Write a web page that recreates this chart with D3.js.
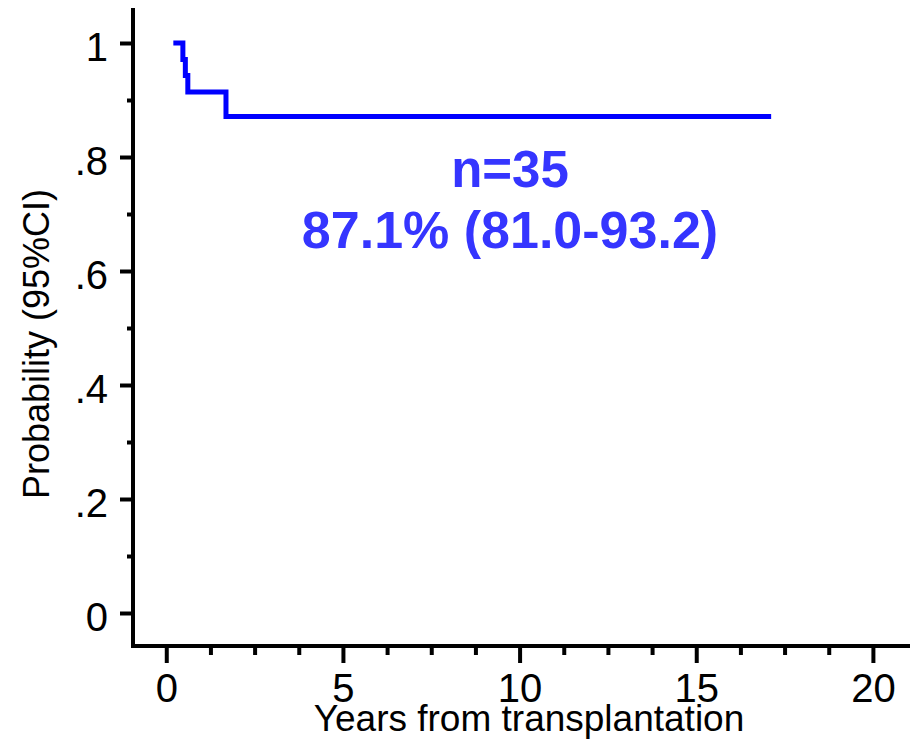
<!DOCTYPE html>
<html>
<head>
<meta charset="utf-8">
<script src="https://cdn.jsdelivr.net/npm/d3@7"></script>
<style>
  html, body { margin: 0; padding: 0; background: #fff; }
  svg { display: block; font-family: "Liberation Sans", Arial, Helvetica, sans-serif; }
</style>
</head>
<body>
<svg id="chart" width="922" height="739"></svg>
<script>
// Kaplan–Meier survival steps: time in years, survival probability
const times    = [0.2, 0.47, 0.54, 0.61, 1.69, 17.12];
const survival = [1.0, 0.971, 0.943, 0.914, 0.871, 0.871];

const xTicks = [0, 5, 10, 15, 20];
const xMinorTicks = d3.range(0, 20.01, 1.25).filter(v => v % 5 !== 0);
const yTicks = [0, 0.2, 0.4, 0.6, 0.8, 1];
const yTickLabels = ["0", ".2", ".4", ".6", ".8", "1"];
const yMinorTicks = [0.1, 0.3, 0.5, 0.7, 0.9];

const annotation = ["n=35", "87.1% (81.0-93.2)"];
const xTitle = "Years from transplantation";
const yTitle = "Probability (95%CI)";

const svg = d3.select("#chart");

const x = d3.scaleLinear().domain([-0.97, 21.05]).range([132, 910]);
const y = d3.scaleLinear().domain([0, 1]).range([613, 43]);

const axisColor = "#000";

// Axis lines (L-shaped frame on left and bottom)
svg.append("line")
  .attr("x1", 133).attr("x2", 133)
  .attr("y1", 8).attr("y2", 648)
  .attr("stroke", axisColor).attr("stroke-width", 4);
svg.append("line")
  .attr("x1", 131).attr("x2", 910)
  .attr("y1", 646).attr("y2", 646)
  .attr("stroke", axisColor).attr("stroke-width", 4);

// X axis: major and minor ticks
const xAxisG = svg.append("g").attr("transform", "translate(0,646)");
xAxisG.call(d3.axisBottom(x).tickValues(xTicks).tickSize(17).tickPadding(12).tickFormat(d3.format("d")));
const xMinorG = svg.append("g").attr("transform", "translate(0,646)");
xMinorG.call(d3.axisBottom(x).tickValues(xMinorTicks).tickSize(9).tickFormat(""));

// Y axis: major and minor ticks
const yAxisG = svg.append("g").attr("transform", "translate(133,0)");
yAxisG.call(d3.axisLeft(y).tickValues(yTicks).tickSize(13).tickPadding(13)
  .tickFormat((d, i) => yTickLabels[i]));
const yMinorG = svg.append("g").attr("transform", "translate(133,0)");
yMinorG.call(d3.axisLeft(y).tickValues(yMinorTicks).tickSize(6).tickFormat(""));

[xAxisG, xMinorG, yAxisG, yMinorG].forEach(g => {
  g.select(".domain").remove();
  g.selectAll(".tick line").attr("stroke", axisColor).attr("stroke-width", 4);
  g.selectAll(".tick text")
    .attr("fill", "#000")
    .style("font-family", "'Liberation Sans', Arial, sans-serif")
    .style("font-size", "40px");
});
xAxisG.selectAll(".tick text").attr("dy", null).attr("y", 56);
yAxisG.selectAll(".tick text").attr("dy", null).attr("y", 17).attr("x", -25);

// Axis titles
svg.append("text")
  .attr("x", 529).attr("y", 731)
  .attr("text-anchor", "middle")
  .style("font-size", "37px")
  .attr("fill", "#000")
  .text(xTitle);

svg.append("text")
  .attr("transform", "translate(49,344) rotate(-90)")
  .attr("text-anchor", "middle")
  .style("font-size", "36px")
  .attr("fill", "#000")
  .text(yTitle);

// Survival curve (step-after)
const pts = times.map((t, i) => [t, survival[i]]);
const line = d3.line()
  .x(d => x(d[0]))
  .y(d => y(d[1]))
  .curve(d3.curveStepAfter);

svg.append("path")
  .datum(pts)
  .attr("d", line)
  .attr("fill", "none")
  .attr("stroke", "#0000ff")
  .attr("stroke-width", 5);

// Annotation: cohort size and estimate with confidence interval
const ann = svg.append("g").attr("fill", "#3535ff")
  .style("font-weight", "bold").style("font-size", "51px")
  .attr("text-anchor", "middle");
ann.append("text").attr("x", 510).attr("y", 187).text(annotation[0]);
ann.append("text").attr("x", 510).attr("y", 248).style("font-size", "52px").text(annotation[1]);
</script>
</body>
</html>
